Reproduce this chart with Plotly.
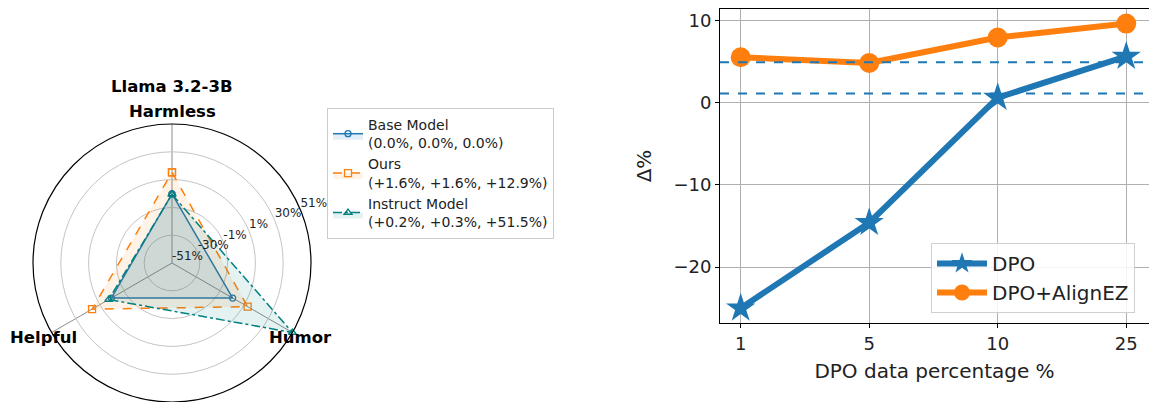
import math
import plotly.graph_objects as go

# ---- radar panel data ----
axes = ["Harmless", "Humor", "Helpful"]
radial_ticks = [0, 1, 2, 3, 4, 5]
radial_tick_text = ["-51%", "-30%", "-1%", "1%", "30%", "51%"]

base_r = [2.49, 2.52, 2.52]
ours_r = [3.26, 3.14, 3.32]
instruct_r = [2.47, 5.0, 2.63]

base_name = "Base Model<br>(0.0%, 0.0%, 0.0%)"
ours_name = "Ours<br>(+1.6%, +1.6%, +12.9%)"
instruct_name = "Instruct Model<br>(+0.2%, +0.3%, +51.5%)"
radar_title = "Llama 3.2-3B"

# ---- line panel data ----
dpo_pct = ["1", "5", "10", "25"]
dpo = [-25.0, -14.6, 0.6, 5.6]
dpo_alignez = [5.5, 4.8, 7.9, 9.6]
ref_levels = [4.9, 1.1]

W, H = 1149, 402
BLUE, ORANGE, TEAL = "#1f77b4", "#ff7f0e", "#008080"
FONT = "DejaVu Sans"

# radar placement (pixels)
CX, CY, RAD = 172, 263, 139
RLABEL_THETA = 67.5  # degrees clockwise from the top


def closed(v):
    return list(v) + [v[0]]


fig = go.Figure()

radar_series = [
    (base_name, base_r, BLUE, "solid", "circle-open", 6, "rgba(31,119,180,0.12)"),
    (ours_name, ours_r, ORANGE, "dash", "square-open", 7, "rgba(255,127,14,0.10)"),
    (instruct_name, instruct_r, TEAL, "dashdot", "triangle-up-open", 7, "rgba(0,128,128,0.10)"),
]
for name, r, col, dash, sym, ms, fillc in radar_series:
    fig.add_trace(go.Scatterpolar(
        r=closed(r), theta=closed(axes), name=name, mode="lines+markers",
        line=dict(color=col, width=1.5, dash=dash),
        marker=dict(symbol=sym, size=ms, color=col, line=dict(width=1.3, color=col)),
        fill="toself", fillcolor=fillc, legend="legend", subplot="polar",
    ))

# radial tick labels, left-aligned at each ring along one direction
fig.add_trace(go.Scatterpolar(
    r=radial_ticks, theta=[RLABEL_THETA] * len(radial_ticks), mode="text",
    text=radial_tick_text, textposition="top right",
    textfont=dict(family=FONT, size=12, color="#222"),
    showlegend=False, hoverinfo="skip", subplot="polar2", cliponaxis=False,
))

# category labels just outside the frame (clockwise from the top)
label_dist = [151, 148, 148]
for i, (name, d) in enumerate(zip(axes, label_dist)):
    ang = math.radians(90 - 360 * i / len(axes))
    px = CX + d * math.cos(ang)
    py = CY - d * math.sin(ang)
    fig.add_annotation(text=name, x=px / W, y=(H - py) / H, xref="paper", yref="paper",
                       showarrow=False, xanchor="center", yanchor="middle",
                       font=dict(family=FONT, size=16.5, color="black", weight="bold"))

# line panel
fig.add_trace(go.Scatter(
    x=dpo_pct, y=dpo, name="DPO", mode="lines+markers",
    line=dict(color=BLUE, width=6),
    marker=dict(symbol="star", size=22, color=BLUE),
    xaxis="x", yaxis="y", legend="legend2",
))
fig.add_trace(go.Scatter(
    x=dpo_pct, y=dpo_alignez, name="DPO+AlignEZ", mode="lines+markers",
    line=dict(color=ORANGE, width=6),
    marker=dict(symbol="circle", size=20, color=ORANGE),
    xaxis="x", yaxis="y", legend="legend2",
))
for lvl in ref_levels:
    fig.add_shape(type="line", xref="x domain", yref="y", x0=0, x1=1, y0=lvl, y1=lvl,
                  line=dict(color=BLUE, width=2, dash="dash"), layer="above")

fig.add_annotation(text=radar_title, x=CX / W, y=(H - 86) / H, xref="paper", yref="paper",
                   showarrow=False, xanchor="center", yanchor="middle",
                   font=dict(family=FONT, size=16.5, color="black", weight="bold"))

axis_common = dict(
    showline=True, linecolor="black", linewidth=1, mirror=True,
    ticks="outside", ticklen=4, tickcolor="black",
    showgrid=True, gridcolor="#b0b0b0", gridwidth=1, zeroline=False,
    tickfont=dict(family=FONT, size=18, color="#222"),
)

polar_domain = dict(x=[(CX - RAD) / W, (CX + RAD) / W], y=[(H - CY - RAD) / H, (H - CY + RAD) / H])

fig.update_layout(
    width=W, height=H, margin=dict(l=0, r=0, t=0, b=0),
    paper_bgcolor="white", plot_bgcolor="white",
    font=dict(family=FONT, color="#222"),
    polar=dict(
        domain=polar_domain,
        bgcolor="white",
        angularaxis=dict(
            type="category", categoryarray=axes, direction="clockwise", rotation=90,
            showticklabels=False, ticks="", showgrid=True, gridcolor="#8c8c8c",
            gridwidth=1, showline=True, linecolor="black", linewidth=1.2,
        ),
        radialaxis=dict(
            range=[0, 5], tickvals=radial_ticks, showticklabels=False,
            showline=False, ticks="", gridcolor="#c4c4c4", gridwidth=1,
        ),
    ),
    polar2=dict(
        domain=polar_domain,
        bgcolor="rgba(0,0,0,0)",
        angularaxis=dict(type="linear", direction="clockwise", rotation=90, visible=False),
        radialaxis=dict(range=[0, 5], visible=False),
    ),
    xaxis=dict(domain=[720 / W, 1.0], type="category", range=[-0.161, 3.177],
               title=dict(text="DPO data percentage %", font=dict(family=FONT, size=20, color="#222"),
                          standoff=11),
               **axis_common),
    yaxis=dict(domain=[79 / H, 393 / H], range=[-26.8, 11.37], tickvals=[-20, -10, 0, 10],
               title=dict(text="Δ%", font=dict(family=FONT, size=20, color="#222"), standoff=16),
               **axis_common),
    legend=dict(x=327 / W, y=(H - 108) / H, xanchor="left", yanchor="top",
                bgcolor="white", bordercolor="#cccccc", borderwidth=1,
                font=dict(family=FONT, size=14, color="#222"), itemwidth=30),
    legend2=dict(x=1135 / W, y=(H - 313) / H, xanchor="right", yanchor="bottom",
                 bgcolor="rgba(255,255,255,0.85)", bordercolor="#d0d0d0", borderwidth=1,
                 font=dict(family=FONT, size=20, color="#222"), itemwidth=50),
)

fig.write_html("out.html")
